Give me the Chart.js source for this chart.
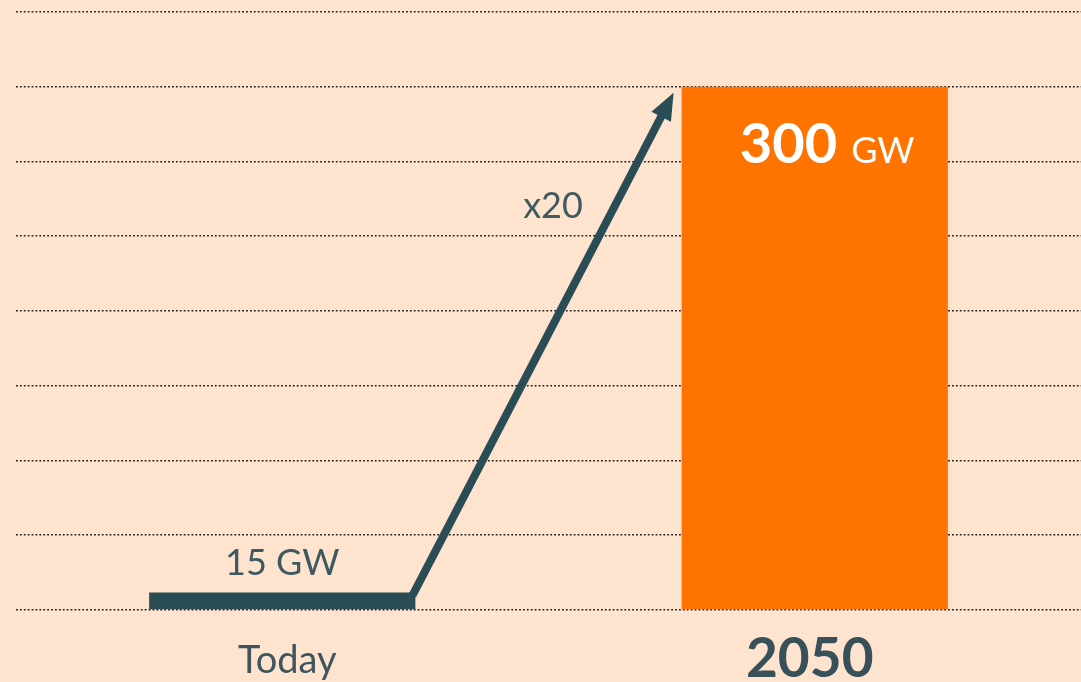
<!DOCTYPE html>
<html>
<head>
<meta charset="utf-8">
<script src="https://cdn.jsdelivr.net/npm/chart.js@4"></script>
<style>
  html, body { margin: 0; padding: 0; background: #fee4cf; overflow: hidden; }
  canvas { display: block; }
</style>
</head>
<body>
<canvas id="chart" width="1081" height="682"></canvas>
<script>
// Chart data
const categories = ['Today', '2050'];
const barValues = [10, 300];          // bar heights
const valueLabels = ['15 GW', '300'];
const growthLabel = 'x20';
const barColors = ['#2a4d55', '#ff7300'];
const gridStep = 300 / 7;             // dotted lines: 2050 bar top sits on the 7th
const gridCount = 8;

const FONT = 'Lato, "Open Sans", sans-serif';

// Texts and arrow on top of the bars
const overlayPlugin = {
    id: 'overlay',
    afterDatasetsDraw(chart) {
        const ctx = chart.ctx;
        const bars = chart.getDatasetMeta(0).data;
        const today = bars[0].getProps(['x', 'y', 'width', 'base'], true);
        const future = bars[1].getProps(['x', 'y', 'width', 'base'], true);
        const todayRight = today.x + today.width / 2;
        const futureLeft = future.x - future.width / 2;

        ctx.save();

        // growth arrow
        const sx = todayRight - 3, sy = today.y + 3;
        const tx = futureLeft - 8, ty = future.y + 6;
        const dx = tx - sx, dy = ty - sy;
        const len = Math.hypot(dx, dy);
        const ux = dx / len, uy = dy / len;
        const headLen = 27, headHalf = 11;
        const bx = tx - ux * headLen, by = ty - uy * headLen;
        ctx.strokeStyle = '#2a4d55';
        ctx.fillStyle = '#2a4d55';
        ctx.lineWidth = 8;
        ctx.lineCap = 'butt';
        ctx.beginPath();
        ctx.moveTo(sx, sy);
        ctx.lineTo(bx + ux * 2, by + uy * 2);
        ctx.stroke();
        ctx.beginPath();
        ctx.moveTo(tx, ty);
        ctx.lineTo(bx - uy * headHalf, by + ux * headHalf);
        ctx.lineTo(bx + uy * headHalf, by - ux * headHalf);
        ctx.closePath();
        ctx.fill();

        ctx.textBaseline = 'alphabetic';

        // x20 label
        ctx.fillStyle = '#3e5960';
        ctx.font = '36px ' + FONT;
        ctx.textAlign = 'center';
        ctx.fillText(growthLabel, 553, 218);

        // 15 GW above today bar
        ctx.fillText(valueLabels[0], today.x, today.y - 18);

        // 300 GW inside 2050 bar
        ctx.fillStyle = '#ffffff';
        ctx.textAlign = 'left';
        ctx.font = 'bold 56px ' + FONT;
        const numX = future.x - 75;
        ctx.fillText(valueLabels[1], numX, future.y + 76);
        const numW = ctx.measureText(valueLabels[1]).width;
        ctx.font = '36px ' + FONT;
        ctx.fillText('GW', numX + numW + 14, future.y + 76);

        // category labels
        const xScale = chart.scales.x;
        ctx.textAlign = 'center';
        ctx.fillStyle = '#3f545c';
        ctx.font = '38px ' + FONT;
        ctx.fillText(categories[0], xScale.getPixelForValue(0) + 5, 673);
        ctx.fillStyle = '#37505a';
        ctx.font = 'bold 55px ' + FONT;
        ctx.fillText(categories[1], xScale.getPixelForValue(1) - 5, 677);

        ctx.restore();
    }
};

new Chart(document.getElementById('chart'), {
    type: 'bar',
    data: {
        labels: categories,
        datasets: [{
            data: barValues,
            backgroundColor: barColors,
            borderWidth: 0,
            barPercentage: 0.5,
            categoryPercentage: 1
        }]
    },
    options: {
        responsive: false,
        animation: false,
        layout: { padding: { top: 12, left: 16, right: 0, bottom: 72 } },
        plugins: {
            legend: { display: false },
            tooltip: { enabled: false },
            title: { display: false }
        },
        scales: {
            x: {
                display: false
            },
            y: {
                min: 0,
                max: gridStep * gridCount,
                afterBuildTicks: (scale) => {
                    scale.ticks = Array.from({ length: gridCount + 1 }, (_, i) => ({ value: i * gridStep }));
                },
                ticks: { display: false },
                border: { display: false, dash: [1.8, 2.1] },
                grid: {
                    drawTicks: false,
                    color: '#1c1c1c',
                    lineWidth: 1.6
                }
            }
        }
    },
    plugins: [overlayPlugin]
});
</script>
</body>
</html>
